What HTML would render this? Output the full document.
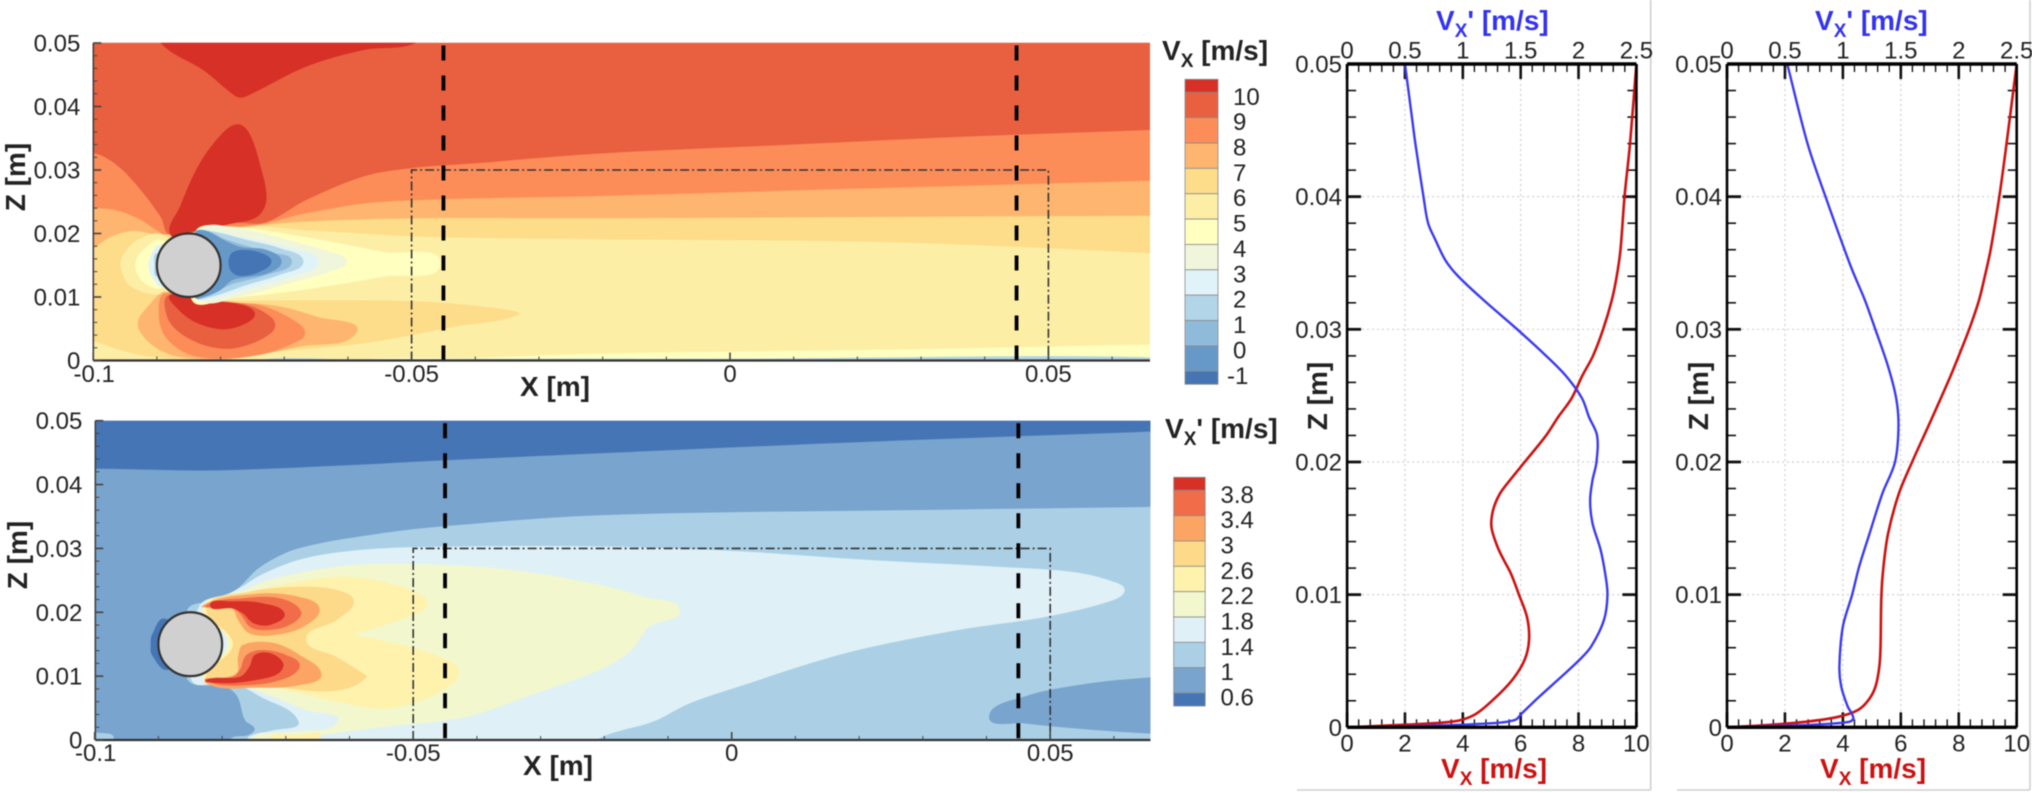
<!DOCTYPE html>
<html lang="en">
<head>
<meta charset="utf-8">
<title>Cylinder wake velocity contours and profiles</title>
<style>
html,body{margin:0;padding:0;background:#fff;width:2032px;height:793px;overflow:hidden}
svg{display:block;filter:blur(0.55px);font-family:"Liberation Sans",sans-serif}
text{fill:#222;font-size:24px}
.ttl{font-weight:bold;font-size:28px}
</style>
</head>
<body>
<svg id="fig" xmlns="http://www.w3.org/2000/svg" width="2032" height="793" viewBox="0 0 2032 793">
  <defs>
    <clipPath id="clipA"><rect x="93.3" y="42.8" width="1056.7" height="317.7"/></clipPath>
    <clipPath id="clipB"><rect x="95.3" y="420.7" width="1055.2" height="319.3"/></clipPath>
  </defs>
  <g id="mapA" clip-path="url(#clipA)"></g>
  <g id="mapB" clip-path="url(#clipB)"></g>
  <g id="overlay"></g>
  <g id="bars"></g>
  <g id="prof"></g>

  <text class="ttl" transform="translate(25,177) rotate(-90)" text-anchor="middle">Z [m]</text>
  <text class="ttl" transform="translate(27,555) rotate(-90)" text-anchor="middle">Z [m]</text>
  <text class="ttl" x="555" y="396" text-anchor="middle">X [m]</text>
  <text class="ttl" x="558" y="775" text-anchor="middle">X [m]</text>

  <text class="ttl" x="1162" y="60">V<tspan font-size="19" dy="7">X</tspan><tspan dy="-7"> [m/s]</tspan></text>
  <text class="ttl" x="1165" y="438">V<tspan font-size="19" dy="7">X</tspan><tspan dy="-7">' [m/s]</tspan></text>

  <text class="ttl" style="fill:#3333ee" x="1436" y="30">V<tspan font-size="19" style="fill:#3333ee" dy="7">X</tspan><tspan style="fill:#3333ee" dy="-7">' [m/s]</tspan></text>
  <text class="ttl" style="fill:#3333ee" x="1815" y="30">V<tspan font-size="19" style="fill:#3333ee" dy="7">X</tspan><tspan style="fill:#3333ee" dy="-7">' [m/s]</tspan></text>
  <text class="ttl" style="fill:#cc1111" x="1441" y="778">V<tspan font-size="19" style="fill:#cc1111" dy="7">X</tspan><tspan style="fill:#cc1111" dy="-7"> [m/s]</tspan></text>
  <text class="ttl" style="fill:#cc1111" x="1820" y="778">V<tspan font-size="19" style="fill:#cc1111" dy="7">X</tspan><tspan style="fill:#cc1111" dy="-7"> [m/s]</tspan></text>
  <text class="ttl" transform="translate(1327,396) rotate(-90)" text-anchor="middle">Z [m]</text>
  <text class="ttl" transform="translate(1708,396) rotate(-90)" text-anchor="middle">Z [m]</text>
</svg>
<script>
/* ---------- chart data (x, z in mm for contour outlines; profiles: z in mm) ---------- */
const mapZTicks = [0.05, 0.04, 0.03, 0.02, 0.01, 0];
const mapXTicks = [-0.1, -0.05, 0, 0.05];
const vxLevels = [10, 9, 8, 7, 6, 5, 4, 3, 2, 1, 0, -1];
const vxColors = ['#d73027','#e8603f','#fc8d59','#fdb56f','#fddc8a','#fdeea6','#ffffbf','#eff6dc','#e0f3f8','#b3d5e8','#8fbbda','#6799c8','#4575b4'];
const vrmsLevels = [3.8, 3.4, 3, 2.6, 2.2, 1.8, 1.4, 1, 0.6];
const vrmsColors = ['#d73027','#f16c48','#fba463','#fdd98a','#fff2ac','#f2f7cd','#dff1f6','#abd0e6','#78a4ce','#4575b4'];

/* mean velocity contour outlines */
const vxBand8 = [[-106,33],[-100,32.7],[-96.6,31],[-93,27.4],[-89.4,22.6],[-87.9,19.8],[-78.5,21.7],[-73.1,21.7],[-66.5,25.3],[-57.5,29],[-50,30.3],[-40.7,31],[-20.4,32.6],[7.6,33.9],[35.7,35.2],[65.8,36.3],[72,36.6],[72,-5],[-106,-5]];
const vxBand7 = [[-106,24],[-100,24],[-96.6,23.7],[-93,22.4],[-90,20.5],[-88,19.5],[-76,21.1],[-72.5,21.7],[-66.5,23.2],[-54.5,25],[-20.4,25.9],[21.7,27.1],[65.8,28.3],[72,28.5],[72,-5],[-106,-5]];
const vxBand6 = [[-106,15.5],[-100,17.7],[-97.2,19.5],[-93.6,20.4],[-89.4,19.8],[-76.1,21.1],[-66.5,21.9],[-48.5,22.4],[-20.4,22.4],[21.7,22.6],[65.8,22.8],[72,22.8],[72,-5],[-106,-5]];
const vxBand5 = [[-77.3,20.7],[-66.5,20.5],[-48.5,19.5],[-20.4,19.1],[21.7,18.7],[49.7,17.7],[65.8,16.9],[72,16.6],[72,-5],[-106,-5],[-106,3.2],[-100,3],[-95.8,1.65],[-91,0.6],[-83,0.2],[-74,1.2],[-57.6,2.7],[-43.4,5.3],[-33.2,7.2],[-36.5,8.2],[-48.5,9.3],[-66.5,9.5],[-81,9.5],[-88,10.5],[-85,15]];
const vxPeakUpper = [[-87.9,19.8],[-86.4,24.2],[-83.3,31],[-79.7,35.8],[-77.3,37.2],[-75.5,35.8],[-73.7,30.5],[-72.8,25.3],[-74.3,22.6],[-78.5,21.5],[-84.5,20.3]];
const vxPeakTop = [[-89.4,50],[-82.7,45.7],[-77.9,41.8],[-76.7,41.4],[-74.9,42.1],[-66.5,46.3],[-57.5,48.9],[-49.4,50],[-49,53],[-89,53]];
const vxNose5 = [[-89,19.8],[-93,19],[-95.4,16.4],[-95.6,14.3],[-94,11.6],[-89,10.6],[-85,15]];
const vxNose4 = [[-89.2,19],[-92.2,17.4],[-93.4,15],[-92.2,12.4],[-89.2,11.4],[-85,15]];
const vxNose3 = [[-89.5,18.2],[-91,16.4],[-91.3,14.8],[-90.8,13.2],[-89,11.5],[-85,15]];
const vxNose2 = [[-90,16.9],[-90.4,15],[-90,13.2],[-85,15]];
const vxLobe7 = [[-89,10.8],[-91,9],[-93,5.9],[-91.6,3.2],[-88.4,1.1],[-84.3,0.3],[-78,0.3],[-67.5,2.2],[-58.6,4.5],[-64.9,6.9],[-71.7,8.7],[-80.6,9.3],[-87.9,10.5]];
const vxLobe8 = [[-88.7,10.6],[-89.7,7.4],[-88.7,3.8],[-85.3,1.1],[-80.6,0.3],[-73.8,0.9],[-68.6,2.7],[-66.7,4.3],[-68.6,6.4],[-73.8,8.7],[-80.6,9.3]];
const vxLobe9 = [[-88.2,10.3],[-88.4,6.9],[-86.3,4.3],[-82.2,2.3],[-78,1.9],[-73.3,3.5],[-71.4,5.6],[-73.3,7.7],[-77,9],[-83.2,9.5]];
const vxLobe10 = [[-87.9,10.3],[-86.6,8],[-83.7,5.9],[-79.5,4.9],[-75.9,5.9],[-74.6,7.4],[-76.4,8.7],[-83.2,9.6]];
const vxWake4 = [[-84,20.3],[-78.5,21.1],[-66.5,19.4],[-54.5,17.1],[-45.5,15.3],[-54.5,13.2],[-66.5,11.2],[-78.5,9.8],[-84.5,9.5]];
const vxWake3 = [[-83,20.5],[-77.3,20.8],[-69.5,19],[-62.9,17.1],[-60.2,15.6],[-62.9,14],[-69.5,12.1],[-77.3,10],[-83,9.7]];
const vxWake2 = [[-84,20.2],[-81.1,20.3],[-75.4,19.2],[-69,17.7],[-64.6,15.6],[-69,13.2],[-75.4,11.4],[-81.1,9.8],[-84,9.9]];
const vxWake1 = [[-84,20.2],[-81.6,20.4],[-75.9,19],[-70.7,17.7],[-67,15.6],[-70.7,13.5],[-75.9,11.9],[-81.6,10],[-84,10]];
const vxWake0 = [[-84,20.2],[-82.2,20.4],[-79,19],[-72.7,17.1],[-68.8,15.6],[-72.7,13.5],[-78.5,11.9],[-82.2,10.1],[-84,10]];
const vxWakeM1 = [[-84,20.1],[-82.2,20.4],[-79.5,19],[-76.9,17.9],[-72.7,17.4],[-70.4,15.6],[-72.7,13.7],[-78,12.7],[-80,11.1],[-82.2,10.1],[-84,10]];
const vxWakeCore = [[-78.5,16.6],[-76.9,17.4],[-73.8,17],[-72,15.6],[-73.8,14],[-76.9,13.3],[-78.5,14.3]];
const vxWallStrip4 = [[-60,0],[-40,0.4],[-20.4,1.1],[30,1.8],[65.8,2.5],[72,2.6],[72,-2],[-60,-2]];
const vxWallStrip3 = [[-75,0],[-60,0.2],[0,0.3],[72,0.35],[72,-2],[-75,-2]];

/* velocity fluctuation contour outlines */
const vrmsTop = [[-106,42.5],[-100,42.5],[-84.8,42.2],[-77.6,42.3],[-60.8,43],[-44.9,43.8],[-20.7,44.9],[21.4,46.7],[65.7,48.3],[72,48.6],[72,55],[-106,55]];
const vrms14 = [[-85.5,20.3],[-81.2,21.9],[-77.6,23.7],[-74,27.1],[-68,30],[-54.8,32.4],[-44.9,33.5],[-20.7,35.2],[35.4,36.1],[65.7,36.5],[72,36.7],[72,-5],[-78.8,-5],[-78.8,0],[-75.8,0.8],[-74.9,1.8],[-76.4,3.1],[-77.6,6.8],[-79.4,8.3],[-85.5,9.6]];
const vrms18 = [[-83.6,20.9],[-78.8,23],[-76.4,24.3],[-74,25.8],[-68,28.2],[-60.8,29.5],[-50,30.2],[-20.7,30.3],[0.3,29.6],[21.4,28.2],[42.4,27.1],[53.6,26.3],[59.9,24.8],[61.7,23.5],[59.9,21.9],[49.4,19.3],[35.4,17.2],[17.9,13.6],[0.3,8.1],[-6.7,5.7],[-12.3,2.9],[-20.7,0.3],[-24,-3],[-76,-3],[-76,0.2],[-74.9,0.9],[-72,1.5],[-68,2.9],[-74,6.8],[-78.8,9.1],[-84.8,9.4]];
const vrms22 = [[-81.2,21.4],[-76.4,23.5],[-72.8,25],[-63.8,26.9],[-54.8,27.6],[-36.8,26.9],[-20.7,24.3],[-13.7,22.4],[-8.1,20.3],[-13,17.7],[-15.8,14],[-20.7,11],[-30.8,7.3],[-41.7,3.6],[-52.1,2.3],[-61.5,1.2],[-69.9,0.1],[-75.7,0],[-69,1.3],[-61.8,2.9],[-66.8,4.7],[-72,6.8],[-77.2,8.6],[-82,9.3],[-79.2,15]];
const vrms26 = [[-83,20.8],[-76.4,23],[-68,24.8],[-60.8,25.6],[-54.8,24.8],[-49.4,23],[-47.7,21.4],[-50,19.6],[-57.8,17],[-59,16.6],[-57.8,16.2],[-51.8,14.9],[-45.8,13],[-42.8,10.9],[-44.6,8.3],[-48.8,6.2],[-54.8,4.9],[-62,6],[-69.8,7.8],[-77,9.1],[-83,9.6],[-78.7,15]];
const vrmsWall26 = [[-72.5,0.1],[-68,0.7],[-64.5,0.6],[-68,0.05]];
const vrms30 = [[-82.4,20.8],[-75.8,23.2],[-68,24],[-62,23.5],[-59.3,21.7],[-62,18.8],[-66.8,15.8],[-62,13],[-57.8,10.4],[-57.3,9.9],[-59.6,8.3],[-63.8,7.6],[-69.8,8.1],[-75.8,8.9],[-82.4,9.4],[-78.3,15]];
const vrms34Upper = [[-83,21.1],[-74.6,22.9],[-68.3,22.5],[-64.7,20.6],[-67.3,17.7],[-72,16.4],[-75.7,16.7],[-77.5,18.8],[-78.5,20.6]];
const vrms34Lower = [[-82.5,8.9],[-74.1,8.2],[-67.8,8.6],[-64.4,10.2],[-67.8,13.3],[-72,15.2],[-76.7,14.9],[-77.5,13],[-77.8,10.4]];
const vrms38Upper = [[-82.5,21.1],[-76.7,22.2],[-71,22.2],[-67.6,20.1],[-69.4,18],[-73,17.2],[-75.6,17.7],[-77.2,19.8],[-78.8,20.8]];
const vrms38Lower = [[-82.5,9.3],[-75.7,8.6],[-69.9,9.7],[-67.8,11.7],[-69.9,13.3],[-73.6,14.1],[-76.2,13.3],[-77.2,11],[-78.3,9.9]];
const vrmsPeakUpper = [[-81.9,21.1],[-78.3,21.7],[-73.6,21.4],[-70.2,19.8],[-72.5,18],[-75.1,18.3],[-76.7,19.8],[-78.3,20.6]];
const vrmsPeakLower = [[-82.5,9.4],[-79.3,8.9],[-74.6,9.4],[-71.2,10.4],[-70.4,12],[-72.5,13.6],[-74.9,13.3],[-75.7,11.5],[-77.2,9.9]];
const vrmsNose = [[-89,19],[-91,16.5],[-91.2,15],[-91,13.3],[-88.5,11],[-85,15]];
const vrmsCorner = [[-101,1.4],[-100,1.2],[-97,0.3],[-100,-1]];
const vrmsDownstream = [[40.4,3.6],[45.9,6.8],[56.4,8.9],[65.7,9.8],[72,10],[72,0.8],[65.7,1],[56.4,1.6],[45.9,2.6]];

/* profile tick labels */
const profZTicks = [0.05, 0.04, 0.03, 0.02, 0.01, 0];
const profVxTicks = [0, 2, 4, 6, 8, 10];
const profVrmsTicks = [0, 0.5, 1, 1.5, 2, 2.5];

/* profile series */
const leftZmm = [50,46,44,40,38,36.8,35.2,34,32.2,30,28,26.5,24.8,23.4,22,20,18.6,17.1,15.4,13.4,11.6,10,8.1,6.1,5.1,3.8,2.3,1.05,0.55,0.3,0.1,0];
const leftVrms = [0.5,0.56,0.59,0.66,0.70,0.76,0.85,0.96,1.18,1.47,1.72,1.89,2.03,2.09,2.16,2.155,2.12,2.10,2.12,2.19,2.23,2.25,2.22,2.11,2.01,1.85,1.66,1.51,1.45,1.24,0.66,0];
const leftVxZmm = [50,44,40,36,34,32.2,30,28,26.5,24.8,23.4,22,20,18.6,17.6,16.4,15.1,13.6,12.6,11.6,10,8.3,6.6,5.1,3.6,2.1,0.93,0.43,0.18,0];
const leftVx = [10,9.78,9.59,9.45,9.32,9.15,8.85,8.5,8.13,7.76,7.3,6.88,6.14,5.62,5.28,5.05,4.99,5.2,5.42,5.66,5.94,6.22,6.29,6.14,5.72,5.06,4.39,3.65,1.82,0];
const rightVrmsZmm = [50,44,40,34.7,32.2,30,27.2,24.8,22.7,20,17.6,14.6,12.1,10,7.6,4.6,3.1,1.6,0.7,0.4,0.18,0];
const rightVrms = [0.52,0.695,0.85,1.07,1.19,1.28,1.39,1.46,1.48,1.45,1.34,1.23,1.14,1.08,1.0,0.97,0.985,1.04,1.09,1.05,0.7,0];
const rightVxZmm = [50,44,40,36,34,32.2,30,28,26.5,24.8,22.7,20,17.6,14.6,12.1,10,6.1,4.6,3.1,2.1,1.3,0.8,0.43,0.18,0];
const rightVx = [10,9.65,9.40,9.1,8.9,8.7,8.36,8.0,7.72,7.38,6.95,6.39,5.93,5.56,5.4,5.33,5.3,5.26,5.13,4.9,4.52,3.86,2.78,1.46,0];

/* ---------- helpers ---------- */
const SVGNS = 'http://www.w3.org/2000/svg';
function make(parent, tag, attrs, txt) {
  const el = document.createElementNS(SVGNS, tag);
  for (const k in attrs) el.setAttribute(k, attrs[k]);
  if (txt !== undefined) el.textContent = txt;
  parent.appendChild(el);
  return el;
}
function smoothCoords(P, closed) {
  const n = P.length;
  const at = i => closed ? P[(i + n) % n] : P[Math.max(0, Math.min(n - 1, i))];
  let d = 'M' + P[0][0].toFixed(2) + ' ' + P[0][1].toFixed(2);
  const last = closed ? n : n - 1;
  const tan = i => {
    const a = at(i - 1), c = at(i + 1);
    const tx = c[0] - a[0], ty = c[1] - a[1];
    const len = Math.hypot(tx, ty) || 1;
    return [tx / len, ty / len];
  };
  for (let i = 0; i < last; i++) {
    const p = at(i), q = at(i + 1);
    const dist = Math.hypot(q[0] - p[0], q[1] - p[1]);
    const t0 = tan(i), t1 = tan(i + 1);
    d += 'C' + (p[0] + t0[0] * dist * 0.33).toFixed(2) + ' ' + (p[1] + t0[1] * dist * 0.33).toFixed(2) +
         ' ' + (q[0] - t1[0] * dist * 0.33).toFixed(2) + ' ' + (q[1] - t1[1] * dist * 0.33).toFixed(2) +
         ' ' + q[0].toFixed(2) + ' ' + q[1].toFixed(2);
  }
  return d + (closed ? 'Z' : '');
}

/* ---------- axis functions for the two maps (input in mm) ---------- */
const xA = mm => 730 + 6.368 * mm;
const zA = mm => 360.5 - 6.35 * mm;
const xB = mm => 731.7 + 6.37 * mm;
const zB = mm => 740 - 6.386 * mm;

function contour(g, pts, color, X, Z) {
  const el = make(g, 'path', { d: smoothCoords(pts.map(p => [X(p[0]), Z(p[1])]), true), fill: color });
  
  
  return el;
}

/* ---------- mean velocity map ---------- */
const mapA = document.getElementById('mapA');
const bgA = make(mapA, 'rect', { x: 90, y: 40, width: 1065, height: 325, fill: '#e8603f' });


[
  [vxBand8, '#fc8d59'], [vxBand7, '#fdb56f'], [vxBand6, '#fddc8a'], [vxBand5, '#fdeea6'],
  [vxPeakUpper, '#d73027'], [vxPeakTop, '#d73027'],
  [vxNose5, '#fdeea6'], [vxNose4, '#ffffbf'], [vxNose3, '#e0f3f8'], [vxNose2, '#b3d5e8'],
  [vxLobe7, '#fdb56f'], [vxLobe8, '#fc8d59'], [vxLobe9, '#e8603f'], [vxLobe10, '#d73027'],
  [vxWake4, '#ffffbf'], [vxWake3, '#eff6dc'], [vxWake2, '#e0f3f8'], [vxWake1, '#b3d5e8'],
  [vxWake0, '#8fbbda'], [vxWakeM1, '#6799c8'], [vxWakeCore, '#4575b4'],
  [vxWallStrip4, '#ffffbf'], [vxWallStrip3, '#b3d5e8']
].forEach(l => contour(mapA, l[0], l[1], xA, zA));

/* ---------- fluctuation map ---------- */
const mapB = document.getElementById('mapB');
const bgB = make(mapB, 'rect', { x: 90, y: 415, width: 1065, height: 330, fill: '#78a4ce' });


[
  [vrmsTop, '#4575b4'], [vrms14, '#abd0e6'], [vrmsCorner, '#abd0e6'], [vrms18, '#dff1f6'],
  [vrmsNose, '#4575b4'], [vrms22, '#f2f7cd'], [vrms26, '#fff2ac'], [vrmsWall26, '#fff2ac'], [vrms30, '#fdd98a'],
  [vrms34Upper, '#fba463'], [vrms34Lower, '#fba463'],
  [vrms38Upper, '#f16c48'], [vrms38Lower, '#f16c48'],
  [vrmsPeakUpper, '#d73027'], [vrmsPeakLower, '#d73027'],
  [vrmsDownstream, '#78a4ce']
].forEach(l => contour(mapB, l[0], l[1], xB, zB));

/* ---------- overlays: cylinder, probes, box, axes ---------- */
const overlay = document.getElementById('overlay');
function decorateMap(X, Z, leftPx, rightPx, prefix, xBase) {
  const cyl = make(overlay, 'ellipse', { cx: X(-85), cy: Z(15), rx: Math.abs(X(5) - X(0)), ry: Math.abs(Z(5) - Z(0)), fill: '#d0d0d0', stroke: '#333', 'stroke-width': 2.2 });
  
  

  const box = make(overlay, 'path', {
    d: 'M' + X(-50) + ' ' + Z(0) + 'L' + X(-50) + ' ' + Z(30) + 'L' + X(50) + ' ' + Z(30) + 'L' + X(50) + ' ' + Z(0),
    fill: 'none', stroke: '#333', 'stroke-width': 1.6, 'stroke-dasharray': '9 3 2 3'
  });
  
  

  [-45, 45].forEach(mm => {
    const px = X(mm);
    const ln = make(overlay, 'line', { x1: px, x2: px, y1: Z(50) + 2.5, y2: Z(0), stroke: '#000', 'stroke-width': 3.8, 'stroke-dasharray': '15 15' });
    
    
  });

  const axV = make(overlay, 'line', { x1: leftPx, x2: leftPx, y1: Z(50), y2: Z(0), stroke: '#444', 'stroke-width': 1.6 });
  
  
  const axH = make(overlay, 'line', { x1: leftPx, x2: rightPx, y1: Z(0), y2: Z(0), stroke: '#333', 'stroke-width': 2.2 });
  
  

  for (let m = 0; m <= 50; m += 2) {
    const major = m % 10 === 0;
    const t = make(overlay, 'line', { x1: leftPx, x2: leftPx + (major ? 8 : 4), y1: Z(m), y2: Z(m), stroke: '#444', 'stroke-width': major ? 1.6 : 1 });
    
    
  }
  for (let m = -100; m <= 60; m += 10) {
    const major = m % 50 === 0;
    const t = make(overlay, 'line', { x1: X(m), x2: X(m), y1: Z(0), y2: Z(0) - (major ? 8 : 4), stroke: '#444', 'stroke-width': major ? 1.6 : 1 });
    
    
  }
  mapZTicks.forEach(v => {
    const t = make(overlay, 'text', { x: leftPx - 13, y: Z(v * 1000) + 8.5, 'text-anchor': 'end' }, String(v));
    
    
  });
  mapXTicks.forEach(v => {
    const t = make(overlay, 'text', { x: X(v * 1000) + (v === -0.1 ? 1 : 0), y: xBase, 'text-anchor': 'middle' }, String(v));
    
    
  });
}
decorateMap(xA, zA, 93.3, 1150, 'map-top', 382);
decorateMap(xB, zB, 95.3, 1150.5, 'map-bottom', 761);

/* ---------- colorbars ---------- */
const bars = document.getElementById('bars');
function colorbar(levels, colors, x0, w, yFirst, step, labelX, prefix) {
  const cap = 13;
  const levelStep = levels[0] - levels[1];
  const yOf = v => yFirst + (levels[0] - v) / levelStep * step;
  colors.forEach((c, i) => {
    const top = i === 0 ? yOf(levels[0]) - cap : yOf(levels[i - 1]);
    const bot = i === colors.length - 1 ? yOf(levels[levels.length - 1]) + cap : yOf(levels[i]);
    const r = make(bars, 'rect', { x: x0, y: top, width: w, height: bot - top, fill: c, stroke: '#8a8a8a', 'stroke-width': 0.8 });
    
    
  });
  levels.forEach(v => {
    const offset = v < 0 ? -6 : 0;
    const t = make(bars, 'text', { x: labelX + offset, y: yOf(v) + 12.5 }, String(v));
    
    
  });
}
colorbar(vxLevels, vxColors, 1185, 33, 92.3, 25.36, 1233, 'colorbar-top');
colorbar(vrmsLevels, vrmsColors, 1173.7, 31.5, 490.3, 25.34, 1220.5, 'colorbar-bottom');

/* ---------- profile plots ---------- */
const prof = document.getElementById('prof');
[['M1650.7 0V790', 'separator-left'], ['M1297 790H1650.7', 'frame-bottom-left'], ['M1677 790H2030', 'frame-bottom-right'], ['M2030 0V790', 'separator-right']].forEach(s => {
  const p = make(prof, 'path', { d: s[0], stroke: '#cfcfcf', 'stroke-width': 1.6, fill: 'none' });
  
  
});

function profilePanel(left, right, prefix, vrmsZ, vrmsVals, vxZ, vxVals, labelRight) {
  const top = 64, bottom = 727.3;
  const xVx = v => left + v / 10 * (right - left);
  const xVrms = v => left + v / 2.5 * (right - left);
  const y = mm => bottom - mm / 50 * (bottom - top);

  profVxTicks.forEach(v => {
    if (v === 0 || v === 10) return;
    const g = make(prof, 'line', { x1: xVx(v), x2: xVx(v), y1: top, y2: bottom, stroke: '#cfcfcf', 'stroke-width': 1.2, 'stroke-dasharray': '2 3' });
    
    
  });
  profZTicks.forEach(v => {
    if (v === 0 || v === 0.05) return;
    const g = make(prof, 'line', { x1: left, x2: right, y1: y(v * 1000), y2: y(v * 1000), stroke: '#cfcfcf', 'stroke-width': 1.2, 'stroke-dasharray': '2 3' });
    
    
  });

  /* ticks */
  for (let i = 0; i <= 25; i++) {
    const px = left + i / 25 * (right - left);
    const major = i % 5 === 0;
    const len = major ? 15 : 8;
    const w = major ? 2.6 : 1.4;
    const t1 = make(prof, 'line', { x1: px, x2: px, y1: top, y2: top + len, stroke: '#111', 'stroke-width': w });
    
    
    const t2 = make(prof, 'line', { x1: px, x2: px, y1: bottom, y2: bottom - len, stroke: '#111', 'stroke-width': w });
    
    
  }
  for (let m = 0; m <= 50; m += 2) {
    const major = m % 10 === 0;
    const len = major ? 14 : 9;
    const w = major ? 2.8 : 1.6;
    const t1 = make(prof, 'line', { x1: left, x2: left + len, y1: y(m), y2: y(m), stroke: '#111', 'stroke-width': w });
    
    
    const t2 = make(prof, 'line', { x1: right, x2: right - len, y1: y(m), y2: y(m), stroke: '#111', 'stroke-width': w });
    
    
  }

  /* series */
  const vxLine = make(prof, 'path', { d: smoothCoords(vxVals.map((v, i) => [xVx(v), y(vxZ[i])]), false), fill: 'none', stroke: '#cc1111', 'stroke-width': 2.6 });
  
  
  const rmsLine = make(prof, 'path', { d: smoothCoords(vrmsVals.map((v, i) => [xVrms(v), y(vrmsZ[i])]), false), fill: 'none', stroke: '#3a3af0', 'stroke-width': 2.4 });
  
  

  /* frame */
  const frame = make(prof, 'path', {
    d: 'M' + left + ' ' + bottom + 'H' + right + 'M' + left + ' ' + top + 'H' + right,
    fill: 'none', stroke: '#000', 'stroke-width': 3.4
  });
  
  
  const frameV = make(prof, 'path', {
    d: 'M' + left + ' ' + top + 'V' + bottom + 'M' + right + ' ' + top + 'V' + bottom,
    fill: 'none', stroke: '#000', 'stroke-width': 2.6
  });
  
  

  /* labels */
  profVxTicks.forEach(v => {
    const t = make(prof, 'text', { x: xVx(v), y: 751.5, 'text-anchor': 'middle' }, String(v));
    
    
  });
  profVrmsTicks.forEach(v => {
    const t = make(prof, 'text', { x: xVrms(v), y: 58.5, 'text-anchor': 'middle' }, String(v));
    
    
  });
  profZTicks.forEach(v => {
    const t = make(prof, 'text', { x: labelRight, y: y(v * 1000) + 8.5, 'text-anchor': 'end' }, String(v));
    
    
  });
}
profilePanel(1347.1, 1636.4, 'profile-left', leftZmm, leftVrms, leftVxZmm, leftVx, 1342);
profilePanel(1727, 2016.7, 'profile-right', rightVrmsZmm, rightVrms, rightVxZmm, rightVx, 1722);
</script>
</body>
</html>
